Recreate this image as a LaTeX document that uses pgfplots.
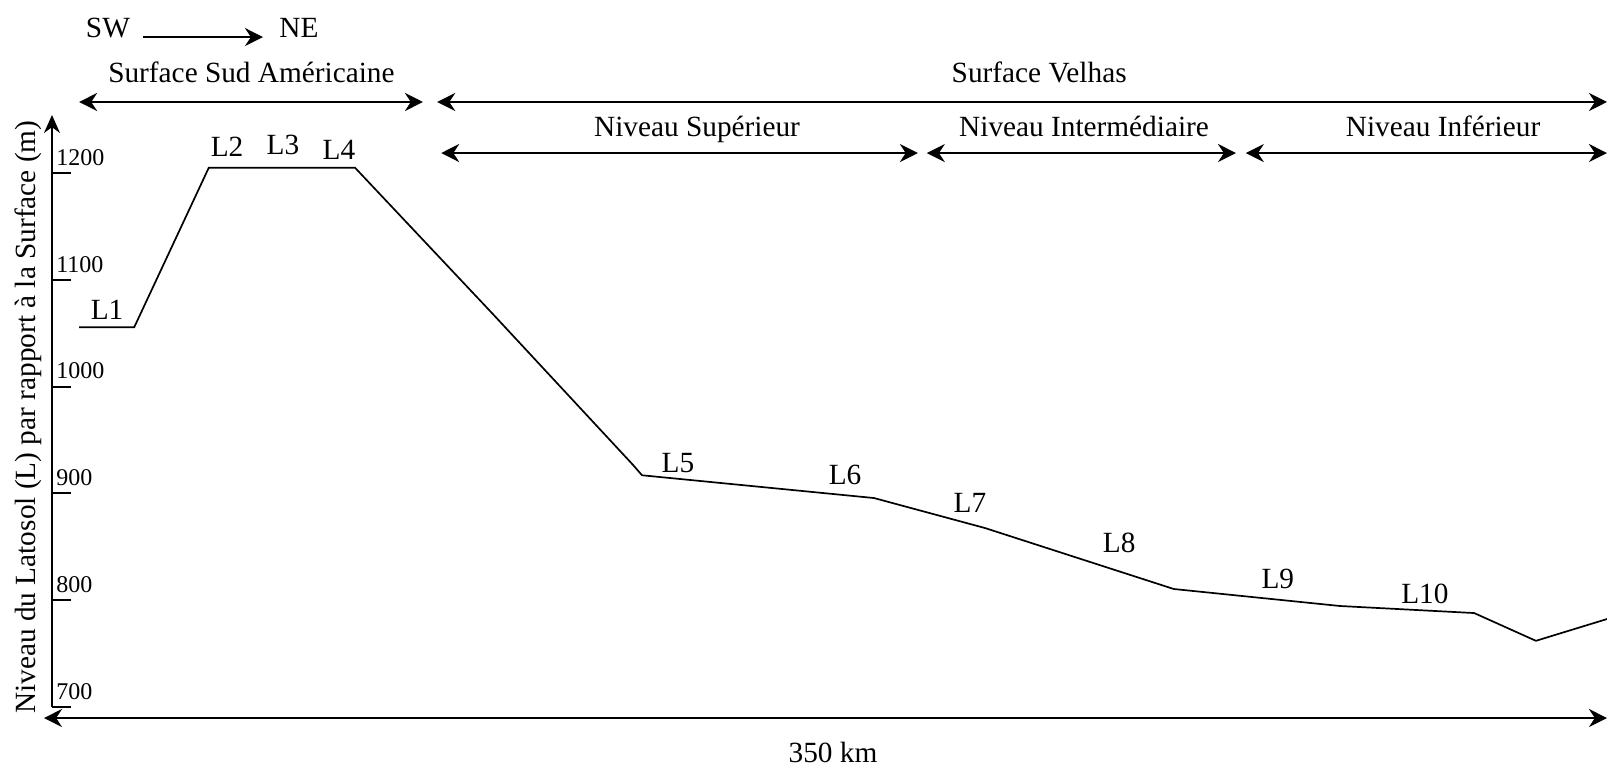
\documentclass[border=0pt]{standalone}
\usepackage{fontspec}
\setmainfont{Liberation Serif}
\usepackage{pgfplots}
\pgfplotsset{compat=1.18}
\usetikzlibrary{arrows.meta}
\begin{document}
\begin{tikzpicture}[font=\fontsize{14.65}{17.6}\selectfont,
  arr/.style={line width=1.2pt, {Stealth[length=9pt,width=9pt]}-{Stealth[length=9pt,width=9pt]}},
  lab/.style={anchor=base, inner sep=0pt}]
\begin{axis}[
  scale only axis, width=777.5pt, height=296pt,
  xmin=0, xmax=350, ymin=700, ymax=1254.3,
  axis x line=none, axis y line=left,
  axis line style={line width=1pt, -{Stealth[length=9pt,width=8pt]}},
  ytick={700,800,...,1200}, xtick=\empty,
  tick align=inside, major tick length=9.5pt,
  ytick style={line width=1pt, black},
  yticklabel style={anchor=south west, inner sep=2pt, yshift=1.5pt, font=\fontsize{12}{14}\selectfont},
  /pgf/number format/1000 sep={}, /pgf/number format/assume math mode=true,
  clip=false,
]
\addplot[black, line width=0.85pt] coordinates {
  (6.1,1055.5) (18.5,1055.5) (35.3,1205) (68.2,1205) (99.0,1069)
  (130.8,926.6) (132.8,917) (185.0,895.7) (210.0,867.6) (252.5,810.5)
  (289.9,794.6) (320.1,788) (334.0,762) (350,782.4)
};
\coordinate (BL) at (axis cs:-11.7,644.8);
\coordinate (TR) at (axis cs:350,1362);
% direction
\node[lab] at (axis cs:12.6,1327.3) {SW};
\node[lab] at (axis cs:55.6,1327.3) {NE};
\draw[line width=1pt, -{Stealth[length=9pt,width=9pt]}] (axis cs:20.5,1327.3) -- (axis cs:47.5,1327.3);
% surfaces
\node[lab] at (axis cs:44.9,1285.2) {Surface Sud Américaine};
\draw[arr] (axis cs:6.1,1266.5) -- (axis cs:83.5,1266.5);
\node[lab] at (axis cs:222.2,1285.2) {Surface Velhas};
\draw[arr] (axis cs:86.7,1266.5) -- (axis cs:350,1266.5);
\node[lab] at (axis cs:145.2,1234.6) {Niveau Supérieur};
\draw[arr] (axis cs:87.6,1218.7) -- (axis cs:194.9,1218.7);
\node[lab] at (axis cs:232.3,1234.6) {Niveau Intermédiaire};
\draw[arr] (axis cs:196.9,1218.7) -- (axis cs:266.5,1218.7);
\node[lab] at (axis cs:313.1,1234.6) {Niveau Inférieur};
\draw[arr] (axis cs:268.7,1218.7) -- (axis cs:350,1218.7);
% distance
\draw[arr] (axis cs:-1.8,689.7) -- (axis cs:350,689.7);
\node[lab] at (axis cs:175.8,648.5) {350 km};
% y label
\node[lab, rotate=90] at (axis cs:-3.8,971.5) {Niveau du Latosol (L) par rapport à la Surface (m)};
% level labels
\node[lab] at (axis cs:12.4,1062.4) {L1};
\node[lab] at (axis cs:39.4,1215) {L2};
\node[lab] at (axis cs:52.0,1217.8) {L3};
\node[lab] at (axis cs:64.6,1213.1) {L4};
\node[lab] at (axis cs:140.9,920.0) {L5};
\node[lab] at (axis cs:178.5,907.9) {L6};
\node[lab] at (axis cs:206.6,882.6) {L7};
\node[lab] at (axis cs:240.2,845.1) {L8};
\node[lab] at (axis cs:275.9,811.4) {L9};
\node[lab] at (axis cs:309.0,797.4) {L10};
\end{axis}
\pgfresetboundingbox
\useasboundingbox (BL) rectangle (TR);
\end{tikzpicture}
\end{document}
